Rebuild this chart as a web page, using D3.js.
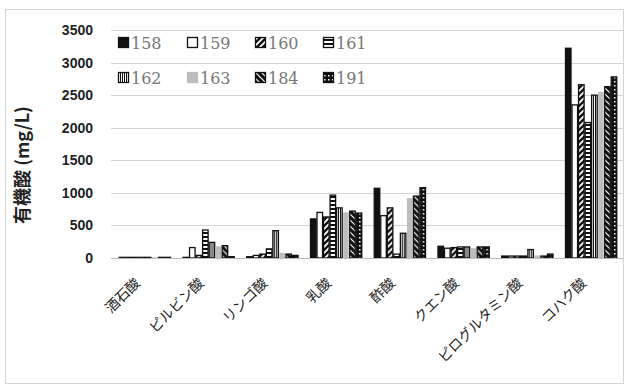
<!DOCTYPE html>
<html>
<head>
<meta charset="utf-8">
<script src="https://cdn.jsdelivr.net/npm/d3@7/dist/d3.min.js"></script>
<style>
  html, body { margin: 0; padding: 0; background: #fff; }
  svg { display: block; }
</style>
</head>
<body>
<svg id="chart" width="629" height="387"></svg>
<script>
// Organic acid content (mg/L) by sample
const categories = ["酒石酸", "ピルビン酸", "リンゴ酸", "乳酸", "酢酸", "クエン酸", "ピログルタミン酸", "コハク酸"];
const seriesNames = ["158", "159", "160", "161", "162", "163", "184", "191"];

const s158 = [10, 10, 20, 600, 1070, 180, 30, 3220];
const s159 = [10, 160, 40, 700, 650, 150, 30, 2350];
const s160 = [10, 40, 60, 630, 770, 160, 30, 2660];
const s161 = [10, 430, 140, 965, 60, 170, 30, 2080];
const s162 = [10, 240, 420, 770, 380, 170, 130, 2500];
const s163 = [10, 180, 80, 700, 920, 150, 40, 2550];
const s184 = [10, 190, 60, 720, 950, 170, 30, 2630];
const s191 = [10, 20, 40, 690, 1080, 170, 60, 2780];
const seriesValues = [s158, s159, s160, s161, s162, s163, s184, s191];

const yTicks = [0, 500, 1000, 1500, 2000, 2500, 3000, 3500];
const yTitle = "有機酸 (mg/L)";

const svg = d3.select("#chart");
const W = 629, H = 387;

// outer frame
svg.append("rect")
  .attr("x", 5.5).attr("y", 9.5).attr("width", W - 11).attr("height", H - 13)
  .attr("fill", "#fff").attr("stroke", "#d4d4d4").attr("stroke-width", 1);

// fill patterns for the series
const defs = svg.append("defs");
function pat(id, w, h, draw) {
  const p = defs.append("pattern").attr("id", id)
    .attr("patternUnits", "userSpaceOnUse").attr("width", w).attr("height", h);
  draw(p);
}
pat("p160", 6, 6, p => {
  p.append("rect").attr("width", 6).attr("height", 6).attr("fill", "#fff");
  p.append("path").attr("d", "M-1,7 L7,-1 M-4,4 L4,-4 M2,10 L10,2").attr("stroke", "#111").attr("stroke-width", 2.4);
});
pat("p161", 6, 4, p => {
  p.append("rect").attr("width", 6).attr("height", 4).attr("fill", "#fff");
  p.append("rect").attr("y", 0).attr("width", 6).attr("height", 2).attr("fill", "#111");
});
pat("p162", 2, 6, p => {
  p.append("rect").attr("width", 2).attr("height", 6).attr("fill", "#fff");
  p.append("rect").attr("x", 0).attr("width", 1).attr("height", 6).attr("fill", "#111");
});
pat("p184", 6, 6, p => {
  p.append("rect").attr("width", 6).attr("height", 6).attr("fill", "#111");
  p.append("path").attr("d", "M-1,-1 L7,7 M-4,2 L2,8 M4,-2 L10,4").attr("stroke", "#fff").attr("stroke-width", 1.2);
});
pat("p191", 4, 4, p => {
  p.append("rect").attr("width", 4).attr("height", 4).attr("fill", "#111");
  p.append("rect").attr("x", 1).attr("y", 1).attr("width", 1.5).attr("height", 1.5).attr("fill", "#fff");
});

const fills = ["#111", "#fff", "url(#p160)", "url(#p161)", "url(#p162)", "#bdbdbd", "url(#p184)", "url(#p191)"];
const strokes = ["#111", "#111", "#111", "#111", "#111", "none", "#111", "#111"];

// scales
const x0 = d3.scaleBand().domain(categories).range([113, 623]).paddingInner(0.18).paddingOuter(0.09);
const x1 = d3.scaleBand().domain(seriesNames).range([0, x0.bandwidth()]);
const y = d3.scaleLinear().domain([0, 3500]).range([258, 30]);

// gridlines
svg.append("g").selectAll("line").data(yTicks.slice(1)).join("line")
  .attr("x1", 111).attr("x2", 623)
  .attr("y1", d => Math.round(y(d)) + 0.5).attr("y2", d => Math.round(y(d)) + 0.5)
  .attr("stroke", "#d2d2d2").attr("stroke-width", 1);

// y axis labels
const yAxis = d3.axisLeft(y).tickValues(yTicks).tickSize(0).tickPadding(0).tickFormat(d3.format("d"));
const gy = svg.append("g").attr("transform", "translate(93,0)").call(yAxis);
gy.select(".domain").remove();
gy.selectAll("text")
  .attr("font-family", "'Liberation Sans', Arial, sans-serif")
  .attr("font-size", 14).attr("font-weight", "bold").attr("fill", "#222");

// y axis title
svg.append("text")
  .attr("transform", "translate(29,165) rotate(-90)")
  .attr("text-anchor", "middle")
  .attr("font-family", "'Noto Sans CJK JP', sans-serif")
  .attr("font-size", 18).attr("font-weight", "bold").attr("fill", "#222")
  .text(yTitle);

// bars
const groups = svg.append("g").selectAll("g").data(categories).join("g")
  .attr("transform", d => `translate(${x0(d)},0)`);
groups.selectAll("rect")
  .data((c, ci) => seriesNames.map((s, si) => ({ s, si, v: seriesValues[si][ci] })))
  .join("rect")
  .attr("x", d => x1(d.s) + 0.5)
  .attr("y", d => y(d.v))
  .attr("width", x1.bandwidth() - 1)
  .attr("height", d => y(0) - y(d.v))
  .attr("fill", d => fills[d.si])
  .attr("stroke", d => strokes[d.si])
  .attr("stroke-width", 1.3);

// baseline
svg.append("line").attr("x1", 111).attr("x2", 623)
  .attr("y1", y(0) + 0.5).attr("y2", y(0) + 0.5)
  .attr("stroke", "#bbb").attr("stroke-width", 1);

// category labels
const xAxis = d3.axisBottom(x0).tickSize(0).tickPadding(0);
const gx = svg.append("g").attr("transform", `translate(0,${y(0)})`).call(xAxis);
gx.select(".domain").remove();
gx.selectAll("text")
  .attr("font-family", "'Noto Sans CJK JP', sans-serif")
  .attr("font-size", 14).attr("fill", "#222")
  .attr("text-anchor", "end")
  .attr("dy", null).attr("y", null)
  .attr("transform", "translate(-4,26) rotate(-45)");

// legend
const legendPos = [[118, 43], [187, 43], [255, 43], [323, 43], [118, 78], [187, 78], [255, 78], [323, 78]];
const lg = svg.append("g").selectAll("g").data(seriesNames).join("g")
  .attr("transform", (d, i) => `translate(${legendPos[i][0]},${legendPos[i][1]})`);
lg.append("rect")
  .attr("x", 0.5).attr("y", -5.5).attr("width", 10).attr("height", 10)
  .attr("fill", (d, i) => fills[i]).attr("stroke", (d, i) => strokes[i] === "none" ? "#bdbdbd" : strokes[i]).attr("stroke-width", 1.3);
lg.append("text")
  .attr("x", 13).attr("y", 6)
  .attr("font-family", "'DejaVu Serif', 'Liberation Serif', serif")
  .attr("font-size", 16).attr("fill", "#777")
  .text(d => d);
</script>
</body>
</html>
